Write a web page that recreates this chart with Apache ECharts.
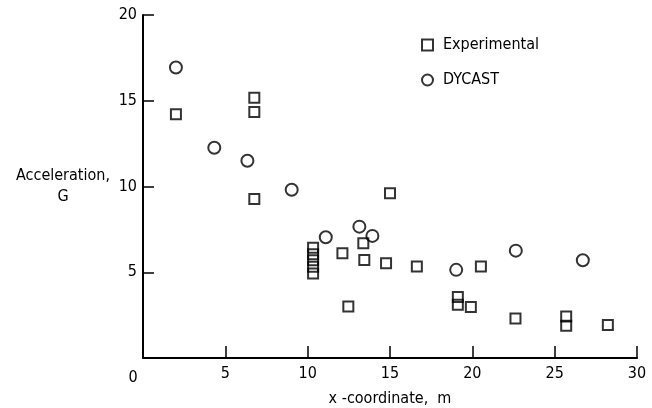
<!DOCTYPE html>
<html>
<head>
<meta charset="utf-8">
<script src="https://cdn.jsdelivr.net/npm/echarts@6/dist/echarts.min.js"></script>
<style>
  html, body { margin: 0; padding: 0; background: #fff; }
  #chart { width: 652px; height: 408px; }
</style>
</head>
<body>
<div id="chart"></div>
<script>
// 实验值 (squares)
var expX = [2.0, 6.76, 6.76, 6.76, 10.33, 10.33, 10.33, 10.33, 10.33, 12.11, 12.47, 13.38, 13.44,
            14.76, 15.0, 16.63, 19.12, 19.12, 19.91, 20.52, 22.62, 25.7, 25.7, 28.23];
var expY = [14.22, 15.17, 14.35, 9.27, 6.43, 6.05, 5.7, 5.32, 4.92, 6.11, 3.0, 6.69, 5.72,
            5.53, 9.6, 5.33, 3.55, 3.1, 2.97, 5.33, 2.3, 2.42, 1.88, 1.92];
// DYCAST (circles)
var dycX = [2.0, 4.33, 6.34, 9.03, 11.1, 13.14, 13.93, 19.02, 22.64, 26.71];
var dycY = [16.94, 12.26, 11.5, 9.81, 7.04, 7.66, 7.12, 5.14, 6.26, 5.7];

var xTicks = [0, 5, 10, 15, 20, 25, 30];
var yTicks = [0, 5, 10, 15, 20];

var FONT = "'DejaVu Sans Condensed', 'Liberation Sans Narrow', sans-serif";

function pairs(xs, ys) {
    var out = [];
    for (var i = 0; i < xs.length; i++) out.push([xs[i], ys[i]]);
    return out;
}

var chart = echarts.init(document.getElementById('chart'));
var markStyle = {
    color: 'rgba(0,0,0,0)',
    borderColor: '#000',
    borderWidth: 2
};

var option = {
    animation: false,
    grid: { left: 143, right: 15, top: 15, bottom: 50, containLabel: false, outerBoundsMode: 'none' },
    legend: {
        orient: 'vertical',
        left: 416,
        top: 32,
        itemGap: 19,
        itemWidth: 11,
        itemHeight: 11,
        data: [
            { name: 'Experimental', icon: 'rect' },
            { name: 'DYCAST', icon: 'circle' }
        ],
        textStyle: { fontFamily: FONT, fontSize: 16, color: '#000', padding: [0, 0, 0, 5] }
    },
    xAxis: {
        type: 'value',
        min: xTicks[0],
        max: xTicks[xTicks.length - 1],
        interval: 5,
        name: 'x -coordinate,  m',
        nameLocation: 'middle',
        nameGap: 33,
        nameTextStyle: { fontFamily: FONT, fontSize: 16, color: '#000' },
        splitLine: { show: false },
        axisLine: { lineStyle: { color: '#000', width: 2 } },
        axisTick: { inside: true, length: 12, lineStyle: { color: '#000', width: 1.5 } },
        axisLabel: {
            margin: 8,
            fontFamily: FONT,
            fontSize: 16,
            color: '#000',
            formatter: function (v) { return v === 0 ? '{z|0}' : String(v); },
            rich: { z: { fontFamily: FONT, fontSize: 16, color: '#000', padding: [4, 20, 0, 0] } }
        }
    },
    yAxis: {
        type: 'value',
        min: yTicks[0],
        max: yTicks[yTicks.length - 1],
        interval: 5,
        name: 'Acceleration,\nG',
        nameLocation: 'middle',
        nameRotate: 0,
        nameGap: 80,
        nameTextStyle: { fontFamily: FONT, fontSize: 16, color: '#000', align: 'center', lineHeight: 21, padding: [4, 0, 0, 0] },
        splitLine: { show: false },
        axisLine: { lineStyle: { color: '#000', width: 2 } },
        axisTick: { inside: true, length: 11, lineStyle: { color: '#000', width: 1.5 } },
        axisLabel: {
            margin: 6,
            fontFamily: FONT,
            fontSize: 16,
            color: '#000',
            formatter: function (v) { return v === 0 ? '' : String(v); }
        }
    },
    series: [
        {
            name: 'Experimental',
            type: 'scatter',
            symbol: 'rect',
            symbolSize: 10,
            itemStyle: markStyle,
            data: pairs(expX, expY)
        },
        {
            name: 'DYCAST',
            type: 'scatter',
            symbol: 'circle',
            symbolSize: 12,
            itemStyle: markStyle,
            data: pairs(dycX, dycY)
        }
    ]
};

chart.setOption(option);
</script>
</body>
</html>
